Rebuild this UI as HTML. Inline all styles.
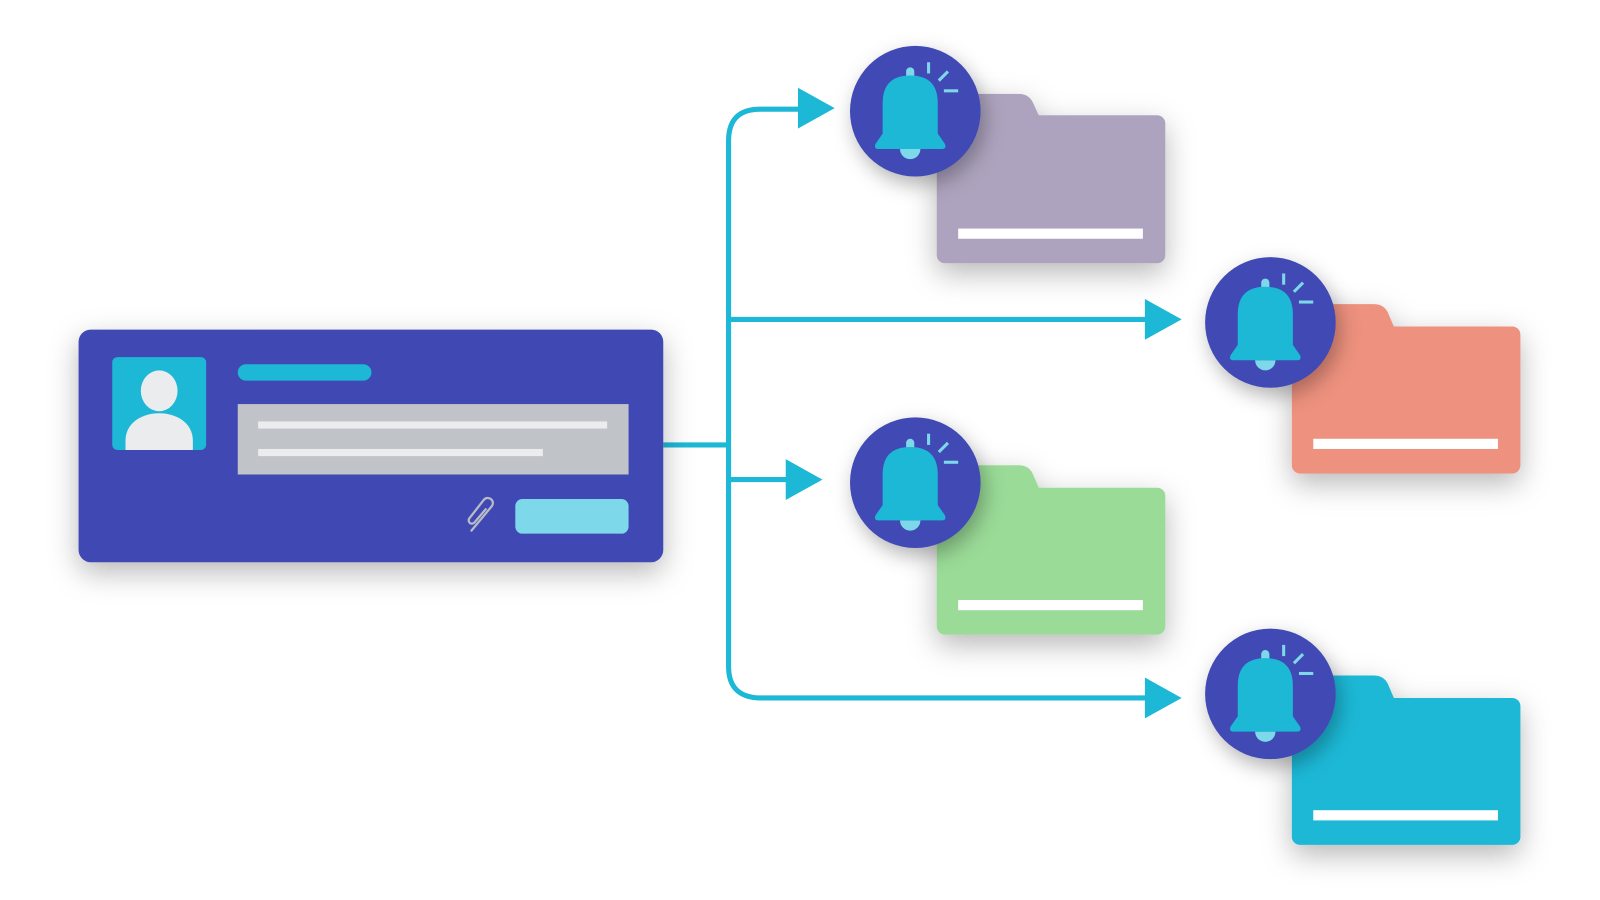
<!DOCTYPE html>
<html><head><meta charset="utf-8"><style>
html,body{margin:0;padding:0;background:#fff;width:1600px;height:900px;overflow:hidden}
svg{display:block}
</style></head><body>
<svg width="1600" height="900" viewBox="0 0 1568 882" xmlns="http://www.w3.org/2000/svg">
<defs>
<filter id="sh" x="-30%" y="-30%" width="160%" height="170%"><feDropShadow dx="0" dy="10" stdDeviation="14" flood-color="#000" flood-opacity="0.28"/></filter>
<filter id="sh2" x="-30%" y="-30%" width="160%" height="170%"><feDropShadow dx="4" dy="8" stdDeviation="10" flood-color="#000" flood-opacity="0.3"/></filter>
<g id="bell">
<circle r="64" fill="#3f48b4" filter="url(#sh2)"/>
<rect x="-9" y="-43" width="8" height="14" rx="4" fill="#7dd8ea"/>
<path d="M-15 37 a10 10 0 0 0 20 0 Z" fill="#7dd8ea"/>
<path d="M-32 22 L-32 -8 Q-32 -35 -5 -35 Q22 -35 22 -8 L22 22 L29 32 Q31 37 26 37 L-36 37 Q-41 37 -39 32 Z" fill="#1db8d6"/>
<line x1="13" y1="-48" x2="13" y2="-37" stroke="#7dd8ea" stroke-width="3"/>
<line x1="23" y1="-30" x2="32" y2="-39" stroke="#7dd8ea" stroke-width="3"/>
<line x1="28" y1="-20" x2="42" y2="-20" stroke="#7dd8ea" stroke-width="3"/>
</g>
</defs>

<g stroke="#1db8d6" stroke-width="5" fill="none">
<line x1="650" y1="436" x2="714" y2="436"/>
<path d="M790 107 L745 107 Q714 107 714 138 L714 653 Q714 684 746 684 L1128 684"/>
<line x1="714" y1="313" x2="1128" y2="313"/>
<line x1="714" y1="470" x2="776" y2="470"/>
</g>
<g fill="#1db8d6">
<polygon points="782,86 818,106 782,126"/>
<polygon points="1122,293 1158,313 1122,333"/>
<polygon points="770,450 806,470 770,490"/>
<polygon points="1122,664 1158,684 1122,704"/>
</g>

<rect x="77" y="323" width="573" height="228" rx="12" fill="#4049b3" filter="url(#sh)"/>
<rect x="110" y="350" width="92" height="91" rx="5" fill="#1db8d6"/>
<ellipse cx="156" cy="383" rx="18" ry="20" fill="#ebecee"/>
<path d="M123 441 L123 432 C123 396 189 396 189 432 L189 441 Z" fill="#ebecee"/>
<rect x="233" y="357" width="131" height="16" rx="8" fill="#1db8d6"/>
<rect x="233" y="396" width="383" height="69" fill="#c0c4c8"/>
<rect x="253" y="413" width="342" height="7" fill="#ebecee"/>
<rect x="253" y="440" width="279" height="7" fill="#ebecee"/>
<rect x="505" y="489" width="111" height="34" rx="7" fill="#7dd8ea"/>
<path d="M462 520 L482 496 a5 5 0 0 0 -8 -6 L460 508 a3 3 0 0 0 5 4 L476 499" fill="none" stroke="#b8bcc6" stroke-width="2.2" stroke-linecap="round"/>

<g filter="url(#sh)">
<path d="M918 100 a8 8 0 0 1 8 -8 L998 92 Q1008 92 1012 100 L1018 113 L1134 113 a8 8 0 0 1 8 8 L1142 250 a8 8 0 0 1 -8 8 L926 258 a8 8 0 0 1 -8 -8 Z" fill="#ada3be"/>
<path d="M1266 306 a8 8 0 0 1 8 -8 L1346 298 Q1356 298 1360 306 L1366 320 L1482 320 a8 8 0 0 1 8 8 L1490 456 a8 8 0 0 1 -8 8 L1274 464 a8 8 0 0 1 -8 -8 Z" fill="#ee917e"/>
<path d="M918 464 a8 8 0 0 1 8 -8 L998 456 Q1008 456 1012 464 L1018 478 L1134 478 a8 8 0 0 1 8 8 L1142 614 a8 8 0 0 1 -8 8 L926 622 a8 8 0 0 1 -8 -8 Z" fill="#9adb97"/>
<path d="M1266 670 a8 8 0 0 1 8 -8 L1346 662 Q1356 662 1360 670 L1366 684 L1482 684 a8 8 0 0 1 8 8 L1490 820 a8 8 0 0 1 -8 8 L1274 828 a8 8 0 0 1 -8 -8 Z" fill="#1db8d6"/>
</g>
<g fill="#fff">
<rect x="939" y="224" width="181" height="10"/>
<rect x="1287" y="430" width="181" height="10"/>
<rect x="939" y="588" width="181" height="10"/>
<rect x="1287" y="794" width="181" height="10"/>
</g>

<use href="#bell" x="897" y="109"/>
<use href="#bell" x="1245" y="316"/>
<use href="#bell" x="897" y="473"/>
<use href="#bell" x="1245" y="680"/>
</svg>
</body></html>
